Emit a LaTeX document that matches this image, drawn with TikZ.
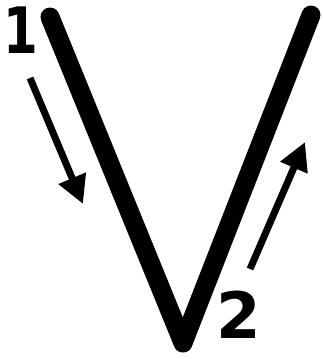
\documentclass[tikz,border=0pt]{standalone}
\usepackage{fontspec}
\setmainfont{DejaVu Sans}
\usetikzlibrary{arrows.meta}
\begin{document}
\begin{tikzpicture}[x=1pt,y=-1pt,
  vstroke/.style={line width=19pt,line cap=round,line join=round},
  motion/.style={line width=7pt,-{Triangle[length=28pt,width=28pt]}},
  digit/.style={font=\bfseries\fontsize{64}{64}\selectfont,inner sep=0pt}]
\useasboundingbox (0,0) rectangle (322,359);
\coordinate (lt) at (50,17);
\coordinate (vb) at (183,343);
\coordinate (rt) at (311,15);
\draw[vstroke] (lt) -- (vb) -- (rt);
\node[digit,xscale=0.78] (one) at (21,30) {1};
\node[digit] (two) at (239,315) {2};
\coordinate (a1s) at (30,78);
\coordinate (a1e) at (83,204);
\coordinate (a2s) at (250,269);
\coordinate (a2e) at (305,142);
\draw[motion] (a1s) -- (a1e);
\draw[motion] (a2s) -- (a2e);
\end{tikzpicture}
\end{document}
